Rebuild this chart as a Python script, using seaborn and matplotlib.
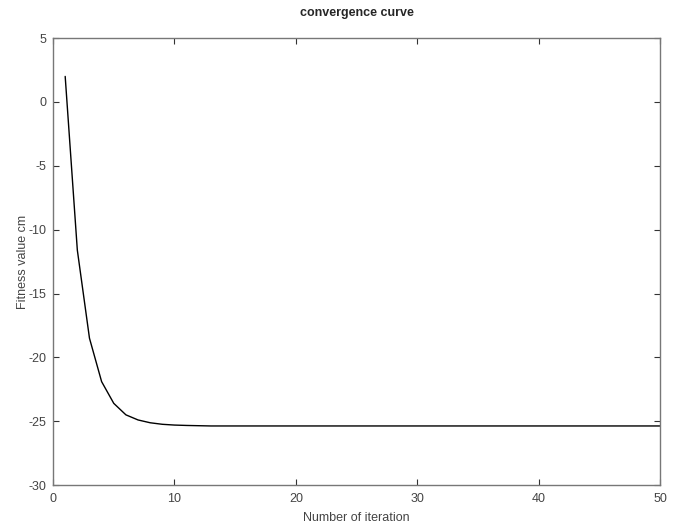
import numpy as np
import pandas as pd
import seaborn as sns
import matplotlib.pyplot as plt

# convergence values
head_values = [2.0, -11.6, -18.5, -21.9, -23.6, -24.5, -24.9, -25.12, -25.24, -25.30,
               -25.33, -25.35]
tail_value = -25.37
iterations = list(range(1, 51))
fitness = head_values + [tail_value] * (50 - len(head_values))

x_ticks = [0, 10, 20, 30, 40, 50]
y_ticks = [-30, -25, -20, -15, -10, -5, 0, 5]

sns.set_theme(style="white")
plt.rcParams['font.family'] = ['Liberation Sans', 'DejaVu Sans']
plt.rcParams['axes.unicode_minus'] = False

df = pd.DataFrame({"iteration": iterations, "fitness": fitness})

fig = plt.figure(figsize=(6.8, 5.29), dpi=100)
ax = fig.add_axes([0.078, 0.083, 0.893, 0.845])
sns.lineplot(data=df, x="iteration", y="fitness", color="black", linewidth=1.0, ax=ax)

ax.set_xlim(0, 50)
ax.set_ylim(-30, 5)
ax.set_xticks(x_ticks)
ax.set_yticks(y_ticks)
ax.tick_params(direction="in", length=4, width=0.8, color="#333333",
               labelsize=9, labelcolor="#444444", top=True, right=True,
               bottom=True, left=True, pad=5)
ax.tick_params(axis="x", pad=6)
for side in ax.spines.values():
    side.set_visible(True)
    side.set_color("#777777")
    side.set_linewidth(1.0)

ax.set_xlabel("Number of iteration", fontsize=9, color="#444444", labelpad=5)
ax.set_ylabel("Fitness value cm", fontsize=9, color="#444444", labelpad=-1)
ax.set_title("convergence curve", fontsize=9, fontweight="bold", pad=16)

fig.savefig("out.png", dpi=100)
